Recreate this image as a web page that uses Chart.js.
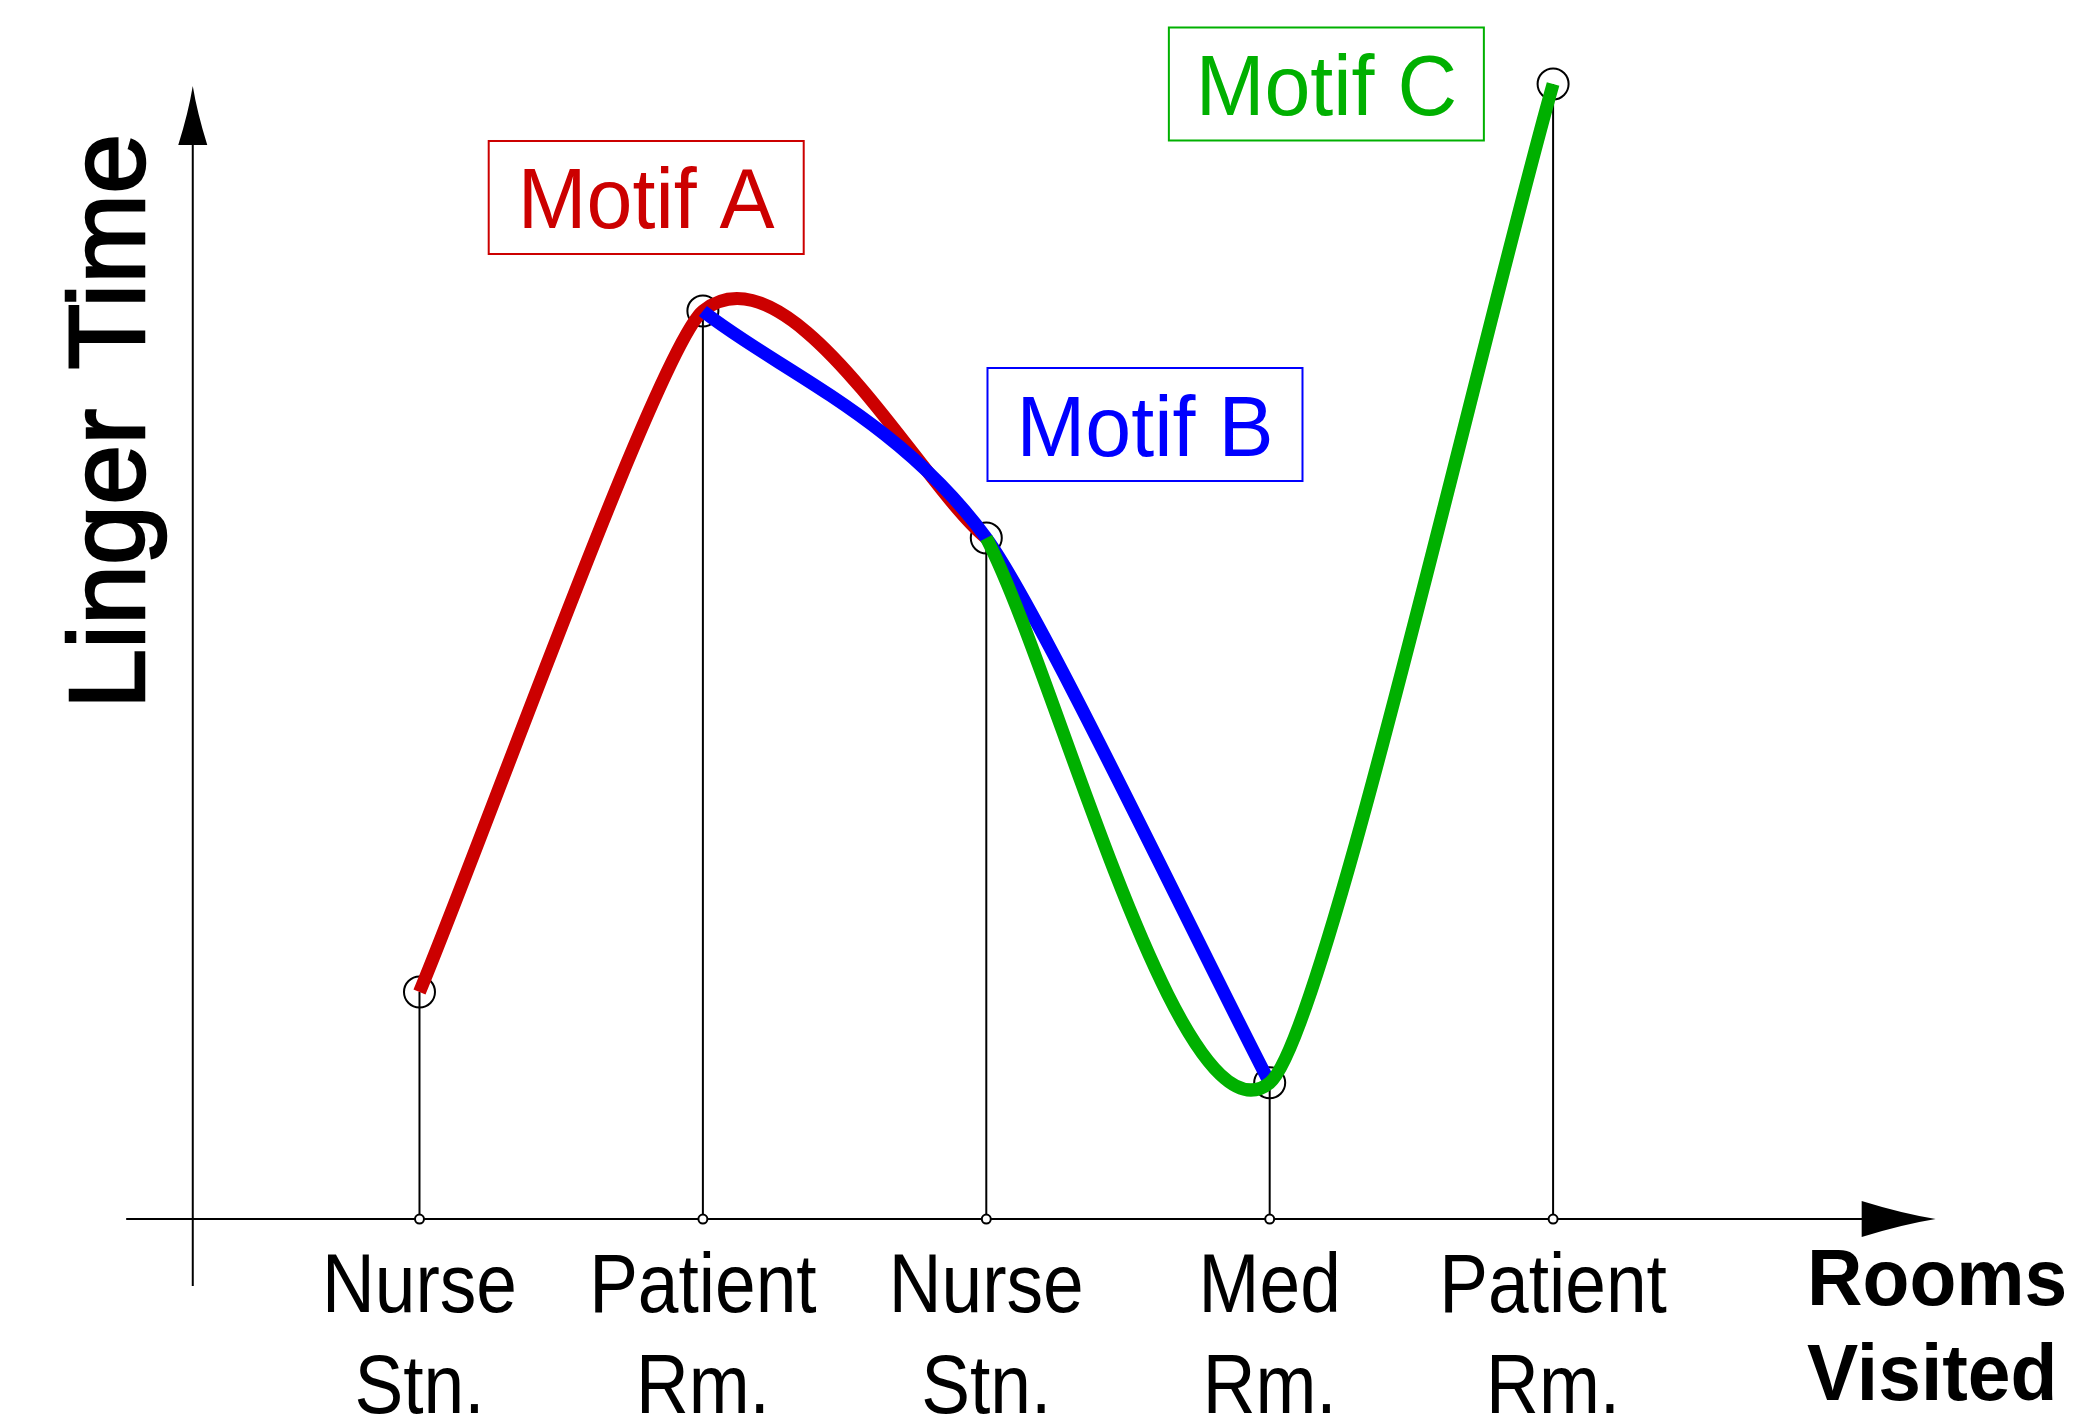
<!DOCTYPE html>
<html>
<head>
<meta charset="utf-8">
<title>Linger Time by Rooms Visited</title>
<script src="https://cdn.jsdelivr.net/npm/chart.js@4.4.1/dist/chart.umd.min.js"></script>
<style>
  html, body { margin: 0; padding: 0; background: #fff; }
  #wrap { width: 2075px; height: 1418px; position: relative; }
</style>
</head>
<body>
<div id="wrap"><canvas id="chart"></canvas></div>
<script>
// rooms in the order they were visited (two-line labels)
const rooms = [['Nurse', 'Stn.'], ['Patient', 'Rm.'], ['Nurse', 'Stn.'], ['Med', 'Rm.'], ['Patient', 'Rm.']]
// linger time at each stop (no units on the original)
const lingerTime = [2, 8, 6, 1.2, 10]
// stops covered by each motif
const motifA = [0, 1, 2]
const motifB = [1, 2, 3]
const motifC = [2, 3, 4]
const motifNames = ['Motif A', 'Motif B', 'Motif C']
const motifColors = ['#cc0000', '#0000ff', '#00b000']

// where the motif boxes sit, in data units (x = stop index, y = linger time)
const boxAnchors = [[0.8, 9], [2.56, 7], [3.2, 10]]

const FONT = '"Liberation Sans", Arial, sans-serif'

function stops (idx) {
  return idx.map(i => ({ x: i, y: lingerTime[i] }))
}

function text (ctx, str, px, py, font, sx, align) {
  ctx.save()
  ctx.translate(px, py)
  ctx.scale(sx, 1)
  ctx.font = font
  ctx.textAlign = align
  ctx.textBaseline = 'alphabetic'
  ctx.fillText(str, 0, 0)
  ctx.restore()
}

// filled spear-like arrow head, tip at (tx, ty), pointing along (dx, dy)
function arrowHead (ctx, tx, ty, dx, dy, len, half) {
  const bx = tx - dx * len, by = ty - dy * len
  const nx = -dy, ny = dx
  const mx = tx - dx * len * 0.45, my = ty - dy * len * 0.45
  ctx.beginPath()
  ctx.moveTo(tx, ty)
  ctx.quadraticCurveTo(mx + nx * half * 0.3, my + ny * half * 0.3, bx + nx * half, by + ny * half)
  ctx.lineTo(bx - nx * half, by - ny * half)
  ctx.quadraticCurveTo(mx - nx * half * 0.3, my - ny * half * 0.3, tx, ty)
  ctx.closePath()
  ctx.fill()
}

// The motif curves in the original are drawn by hand: at a middle stop the
// longer handle points along the shorter leg (the reverse of Chart.js' own
// weighting). Re-weight the bezier handles before the line is stroked.
const handles = {
  id: 'handles',
  beforeDatasetDraw (chart, { meta }) {
    const line = meta.dataset
    if (!line || !chart.data.datasets[meta.index].motif) return
    const t = line.options.tension
    const pts = meta.data
    const n = pts.length
    pts.forEach((p, i) => {
      const prev = pts[Math.max(i - 1, 0)]
      const next = pts[Math.min(i + 1, n - 1)]
      let fa = t, fb = t
      if (i > 0 && i < n - 1) {
        const d01 = Math.hypot(p.x - prev.x, p.y - prev.y)
        const d12 = Math.hypot(next.x - p.x, next.y - p.y)
        fa = t * d12 / (d01 + d12)
        fb = t * d01 / (d01 + d12)
      }
      p.cp1x = p.x - fa * (next.x - prev.x)
      p.cp1y = p.y - fa * (next.y - prev.y)
      p.cp2x = p.x + fb * (next.x - prev.x)
      p.cp2y = p.y + fb * (next.y - prev.y)
    })
    line._pointsUpdated = true
    line._path = undefined
  },
}

const diagram = {
  id: 'diagram',
  beforeDatasetsDraw (chart) {
    const { ctx, scales: { x, y } } = chart
    const oy = y.getPixelForValue(0)
    ctx.save()
    ctx.strokeStyle = '#000'
    ctx.fillStyle = '#000'
    ctx.lineWidth = 2

    // drop lines from each stop to the axis
    lingerTime.forEach((v, i) => {
      const px = x.getPixelForValue(i)
      ctx.beginPath()
      ctx.moveTo(px, oy)
      ctx.lineTo(px, y.getPixelForValue(v))
      ctx.stroke()
    })

    // x axis with arrow
    const xTip = x.getPixelForValue(5.35)
    ctx.beginPath()
    ctx.moveTo(x.getPixelForValue(-1.035), oy)
    ctx.lineTo(xTip - 70, oy)
    ctx.stroke()
    arrowHead(ctx, xTip, oy, 1, 0, 74, 18)

    // y axis with arrow
    const ax = x.getPixelForValue(-0.8)
    const yTip = y.getPixelForValue(10) + 2
    ctx.beginPath()
    ctx.moveTo(ax, y.getPixelForValue(-0.59))
    ctx.lineTo(ax, yTip + 55)
    ctx.stroke()
    arrowHead(ctx, ax, yTip, 0, -1, 59, 14.5)
    ctx.restore()
  },
  afterDatasetsDraw (chart) {
    const { ctx, scales: { x, y } } = chart
    const oy = y.getPixelForValue(0)
    ctx.save()
    ctx.fillStyle = '#000'

    // room labels under the axis
    rooms.forEach((lines, i) => {
      const px = x.getPixelForValue(i)
      lines.forEach((ln, k) => {
        text(ctx, ln, px, oy + 93 + k * 101, '84px ' + FONT, 0.87, 'center')
      })
    })

    // axis titles
    text(ctx, 'Rooms', 1807, 1305, 'bold 80px ' + FONT, 0.96, 'left')
    text(ctx, 'Visited', 1807, 1400, 'bold 80px ' + FONT, 0.96, 'left')

    ctx.save()
    ctx.translate(144, 709)
    ctx.rotate(-Math.PI / 2)
    ctx.font = '108px ' + FONT
    ctx.wordSpacing = '9px'
    ctx.textAlign = 'left'
    ctx.lineWidth = 2.5
    ctx.strokeStyle = '#000'
    ctx.fillText('Linger Time', 0, 0)
    ctx.strokeText('Linger Time', 0, 0)
    ctx.restore()

    // motif boxes
    boxAnchors.forEach(([bx, by], i) => {
      const cx = x.getPixelForValue(bx)
      const cy = y.getPixelForValue(by)
      ctx.strokeStyle = motifColors[i]
      ctx.fillStyle = motifColors[i]
      ctx.lineWidth = 2
      ctx.strokeRect(cx - 157.5, cy - 56.5, 315, 113)
      text(ctx, motifNames[i], cx, cy + 31, '86px ' + FONT, 0.96, 'center')
    })
    ctx.restore()
  },
}

const motifTension = [0.23, 0.25, 0.25]

const motifSets = [motifA, motifB, motifC].map((idx, i) => ({
  label: motifNames[i],
  motif: true,
  data: stops(idx),
  borderColor: motifColors[i],
  borderWidth: 13,
  tension: motifTension[i],
  pointRadius: 0,
  fill: false,
  clip: false,
  order: 3 - i,
}))

new Chart(document.getElementById('chart'), {
  type: 'line',
  data: {
    datasets: [
      {
        label: 'stops',
        data: stops([0, 1, 2, 3, 4]),
        showLine: false,
        pointRadius: 15.5,
        pointBorderWidth: 2,
        pointBorderColor: '#000',
        pointBackgroundColor: 'rgba(0,0,0,0)',
        clip: false,
        order: 5,
      },
      {
        label: 'axis marks',
        data: lingerTime.map((v, i) => ({ x: i, y: 0 })),
        showLine: false,
        pointRadius: 4.5,
        pointBorderWidth: 2,
        pointBorderColor: '#000',
        pointBackgroundColor: '#fff',
        clip: false,
        order: 4,
      },
      ...motifSets,
    ],
  },
  options: {
    responsive: true,
    maintainAspectRatio: false,
    devicePixelRatio: 1,
    animation: false,
    events: [],
    layout: { autoPadding: false, padding: 0 },
    plugins: {
      legend: { display: false },
      tooltip: { enabled: false },
    },
    scales: {
      x: { type: 'linear', min: -1.4802, max: 5.8416, display: false },
      y: { type: 'linear', min: -1.753, max: 10.740, display: false },
    },
  },
  plugins: [handles, diagram],
})
</script>
</body>
</html>
